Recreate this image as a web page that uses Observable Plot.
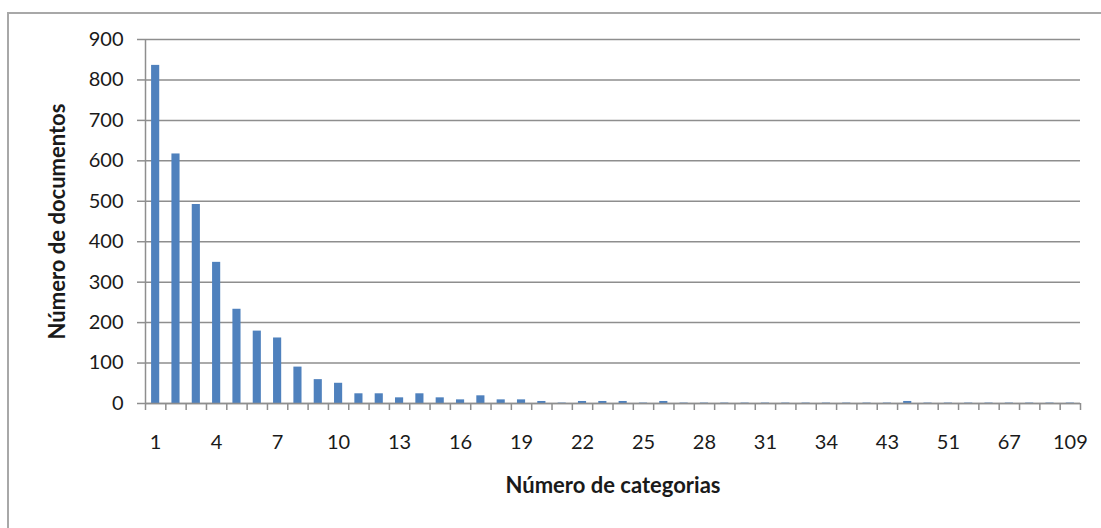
<!DOCTYPE html>
<html><head><meta charset="utf-8">
<script src="https://cdn.jsdelivr.net/npm/d3@7"></script>
<script src="https://cdn.jsdelivr.net/npm/@observablehq/plot@0.6"></script>
<style>
body{margin:0;background:#fff;overflow:hidden;}
#wrap{position:relative;width:1101px;height:528px;overflow:hidden;}
#border{position:absolute;left:7px;top:12px;width:1200px;height:600px;border-top:2px solid #a8a8a8;border-left:2px solid #a8a8a8;}
#chart{position:absolute;left:0;top:0;}
</style></head><body>
<div id="wrap"><div id="border"></div><div id="chart"></div></div>
<script>
const categories = ["1","2","3","4","5","6","7","8","9","10","11","12","13","14","15","16","17","18","19","20","21","22","23","24","25","26","27","28","29","30","31","32","33","34","35","39","43","45","48","51","56","61","67","79","93","109"];
const documentos = [836,617,492,349,233,179,162,90,59,50,24,24,14,24,14,9,19,9,9,5,1,5,5,5,1,5,1,1,1,1,1,1,1,1,1,1,1,5,1,1,1,1,1,1,1,1];
const yTicks = [0,100,200,300,400,500,600,700,800,900];
const xLabelEvery = 3;
const xTitle = "Número de categorias";
const yTitle = "Número de documentos";

const data = categories.map((c, i) => ({categoria: c, indice: i, documentos: documentos[i]}));
const W = 1101, H = 528, mL = 145, mR = 21, mT = 39, mB = 125;
const n = categories.length;
const step = (W - mL - mR) / n;
const gray = "#8e8e8e";
const boundaries = d3.range(0, n + 1);
const labelPos = data.filter(d => d.indice % xLabelEvery === 0).map(d => d.indice + 0.5);

const chart = Plot.plot({
  width: W, height: H, marginLeft: mL, marginRight: mR, marginTop: mT, marginBottom: mB,
  style: {fontFamily: "Lato, 'Open Sans', sans-serif", fontSize: "20px", color: "#1a1a1a", background: "transparent"},
  x: {type: "linear", domain: [0, n], label: null},
  y: {domain: [0, 900], label: null},
  marks: [
    Plot.gridY(yTicks, {stroke: gray, strokeOpacity: 1, strokeWidth: 1.5}),
    Plot.rectY(data, {x1: "indice", x2: d => d.indice + 1, y: "documentos", fill: "#4f81bd", insetLeft: step * 0.3, insetRight: step * 0.3}),
    Plot.ruleY([0], {stroke: gray, strokeWidth: 1.5}),
    Plot.ruleX([0], {y1: 0, y2: 900, stroke: gray, strokeWidth: 1.5}),
    Plot.axisY(yTicks, {tickSize: 8, tickPadding: 14, stroke: gray, strokeWidth: 1.5, label: null}),
    Plot.axisX(boundaries, {tickSize: 7, tickFormat: () => "", stroke: gray, strokeWidth: 1.5, label: null}),
    Plot.axisX(labelPos, {tickSize: 0, tickPadding: 31, tickFormat: v => categories[v - 0.5], label: null}),
    Plot.text([yTitle], {frameAnchor: "left", textAnchor: "middle", rotate: -90, dx: -88, fontWeight: "bold", fontSize: 22}),
    Plot.text([xTitle], {frameAnchor: "bottom", textAnchor: "middle", dy: 89, fontWeight: "bold", fontSize: 22})
  ]
});
document.getElementById("chart").appendChild(chart);
</script>
</body></html>
